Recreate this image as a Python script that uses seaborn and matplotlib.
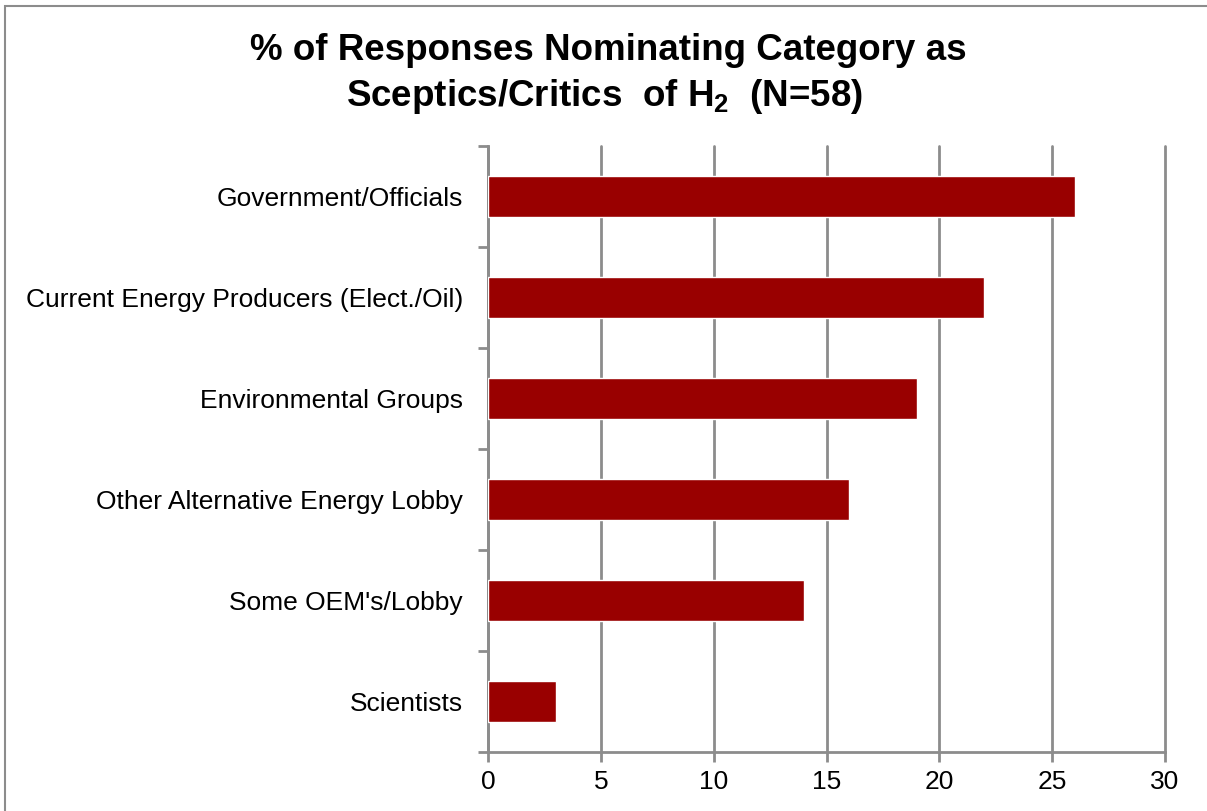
import matplotlib
matplotlib.use("Agg")
import matplotlib.pyplot as plt
import seaborn as sns
import numpy as np
import pandas as pd
from matplotlib.patches import Rectangle

categories = ["Government/Officials", "Current Energy Producers (Elect./Oil)",
              "Environmental Groups", "Other Alternative Energy Lobby",
              "Some OEM's/Lobby", "Scientists"]
values = [26, 22, 19, 16, 14, 3]
xticks = [0, 5, 10, 15, 20, 25, 30]

sns.set_theme(style="white")
plt.rcParams['font.family'] = ['Liberation Sans', 'DejaVu Sans']
plt.rcParams['text.color'] = 'black'
plt.rcParams['mathtext.fontset'] = 'custom'
plt.rcParams['mathtext.rm'] = 'Liberation Sans:bold'
plt.rcParams['mathtext.bf'] = 'Liberation Sans:bold'
plt.rcParams['mathtext.default'] = 'rm'

df = pd.DataFrame({"cat": categories, "val": values})

fig = plt.figure(figsize=(12.07, 8.11), dpi=100)
ax = fig.add_axes([488/1207, 1-752/811, (1165-488)/1207, (752-146)/811])

sns.barplot(data=df, x="val", y="cat", color="#990000", width=0.4,
            saturation=1, ax=ax, zorder=3, order=categories)

grid_c = "#8c8c8c"
ax.set_xlim(0, 30)
ax.set_ylim(5.5, -0.5)
ax.set_xticks(xticks)
ax.set_xticklabels([str(t) for t in xticks], fontsize=19)
ax.tick_params(axis='x', length=7, width=2, color=grid_c, pad=6, direction='out', bottom=True)
ax.tick_params(axis='y', which='major', length=0, pad=18, labelsize=19)
ax.set_yticks(np.arange(-0.5, 6, 1), minor=True)
ax.tick_params(axis='y', which='minor', length=7, width=2, color=grid_c, direction='out', left=True)
ax.set_xlabel("")
ax.set_ylabel("")
ax.xaxis.grid(True, color=grid_c, linewidth=2, zorder=0)
ax.set_axisbelow(True)
for line in ax.get_xgridlines():
    line.set_clip_on(False)
for s in ["top", "right"]:
    ax.spines[s].set_visible(False)
for s in ["left", "bottom"]:
    ax.spines[s].set_color(grid_c)
    ax.spines[s].set_linewidth(2)
for lbl in ax.get_yticklabels():
    lbl.set_color("black")
for lbl in ax.get_xticklabels():
    lbl.set_color("black")

fig.text(608/1207, 1-51/811, "% of Responses Nominating Category as", ha='center', va='center',
         fontsize=26.5, fontweight='bold', color='black')
fig.text(605/1207, 1-96/811, r"Sceptics/Critics  of H$_{2}$  (N=58)", ha='center', va='center',
         fontsize=26.5, fontweight='bold', color='black')

fig.patches.append(Rectangle((5/1207, -0.1), 1.0, 1.1 - 6/811,
                             transform=fig.transFigure, fill=False,
                             edgecolor="#8c8c8c", linewidth=1.5, figure=fig))

fig.savefig("out.png", dpi=100)
